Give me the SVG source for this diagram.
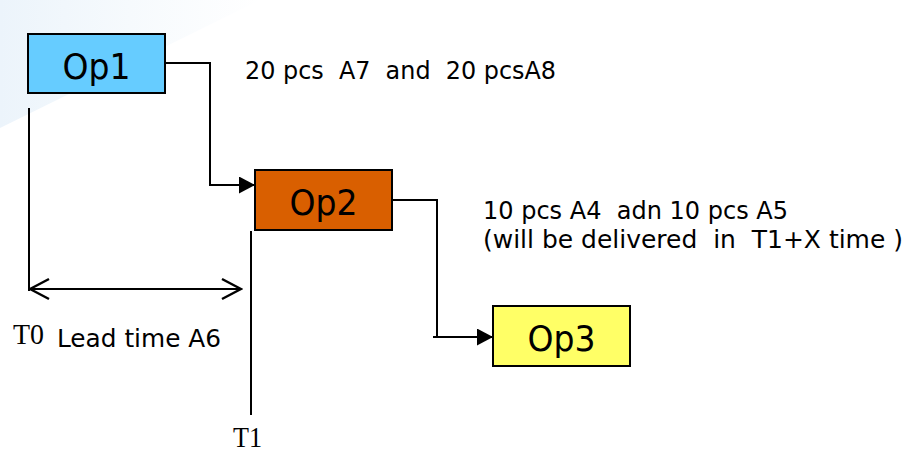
<svg xmlns="http://www.w3.org/2000/svg" width="911" height="452" viewBox="0 0 911 452">
  <defs>
    <linearGradient id="bg" x1="0" y1="0" x2="1" y2="0">
      <stop offset="0" stop-color="#ecf4fb"/>
      <stop offset="0.5" stop-color="#f6fafd"/>
      <stop offset="1" stop-color="#ffffff"/>
    </linearGradient>
    <marker id="solid" viewBox="0 0 16 17" refX="16" refY="8.5" markerWidth="16" markerHeight="17" markerUnits="userSpaceOnUse" orient="auto">
      <path d="M0,0 L16,8.5 L0,17 Z" fill="#000"/>
    </marker>
    <marker id="open" viewBox="0 0 22 24" refX="20" refY="12" markerWidth="22" markerHeight="24" markerUnits="userSpaceOnUse" orient="auto-start-reverse">
      <path d="M1,2 L20,12 L1,22" fill="none" stroke="#000" stroke-width="2.5"/>
    </marker>
  </defs>
  <style>
    .box { stroke: #000; stroke-width: 2; }
    .op { font-family: "DejaVu Sans", Verdana, sans-serif; font-size: 36px; fill: #000; text-anchor: middle; }
    .lbl { font-family: "DejaVu Sans", Verdana, sans-serif; font-size: 25px; fill: #000; white-space: pre; }
    .tm { font-family: "Liberation Serif", "Times New Roman", serif; font-size: 29px; fill: #000; }
    .ln { fill: none; stroke: #000; stroke-width: 2; }
  </style>
  <rect x="0" y="0" width="911" height="452" fill="#fff"/>
  <polygon points="0,0 260,0 0,128" fill="url(#bg)"/>

  <g id="connectors">
    <path class="ln" d="M165,63 H210 V185"/>
    <path class="ln" d="M209,185 H255" stroke-width="3" marker-end="url(#solid)"/>
    <path class="ln" d="M392,200 H437 V337"/>
    <path class="ln" d="M433,337 H493" stroke-width="3" marker-end="url(#solid)"/>
    <path class="ln" d="M29,108 V291"/>
    <path class="ln" d="M251,231 V415" stroke-width="1.8"/>
    <path class="ln" d="M30,289 H241" stroke-width="2.5" marker-start="url(#open)" marker-end="url(#open)"/>
  </g>

  <g id="op1">
    <rect class="box" x="28" y="34" width="137" height="59" fill="#66ccff"/>
    <text class="op" x="96.5" y="79" textLength="68" lengthAdjust="spacingAndGlyphs">Op1</text>
  </g>
  <g id="op2">
    <rect class="box" x="255" y="170" width="137" height="60" fill="#d95f00"/>
    <text class="op" x="323.5" y="215" textLength="68" lengthAdjust="spacingAndGlyphs">Op2</text>
  </g>
  <g id="op3">
    <rect class="box" x="493" y="306" width="137" height="60" fill="#ffff66"/>
    <text class="op" x="561.5" y="351" textLength="68" lengthAdjust="spacingAndGlyphs">Op3</text>
  </g>

  <g id="labels">
    <text class="lbl" x="245" y="79" textLength="311" lengthAdjust="spacingAndGlyphs">20 pcs  A7  and  20 pcsA8</text>
    <text class="lbl" x="483" y="219" textLength="305" lengthAdjust="spacingAndGlyphs">10 pcs A4  adn 10 pcs A5</text>
    <text class="lbl" x="483" y="248" textLength="420" lengthAdjust="spacingAndGlyphs">(will be delivered  in  T1+X time )</text>
    <text class="lbl" x="57" y="347" textLength="164" lengthAdjust="spacingAndGlyphs">Lead time A6</text>
    <text class="tm" x="13" y="344" textLength="31" lengthAdjust="spacingAndGlyphs">T0</text>
    <text class="tm" x="233" y="447" textLength="29" lengthAdjust="spacingAndGlyphs">T1</text>
  </g>
</svg>
